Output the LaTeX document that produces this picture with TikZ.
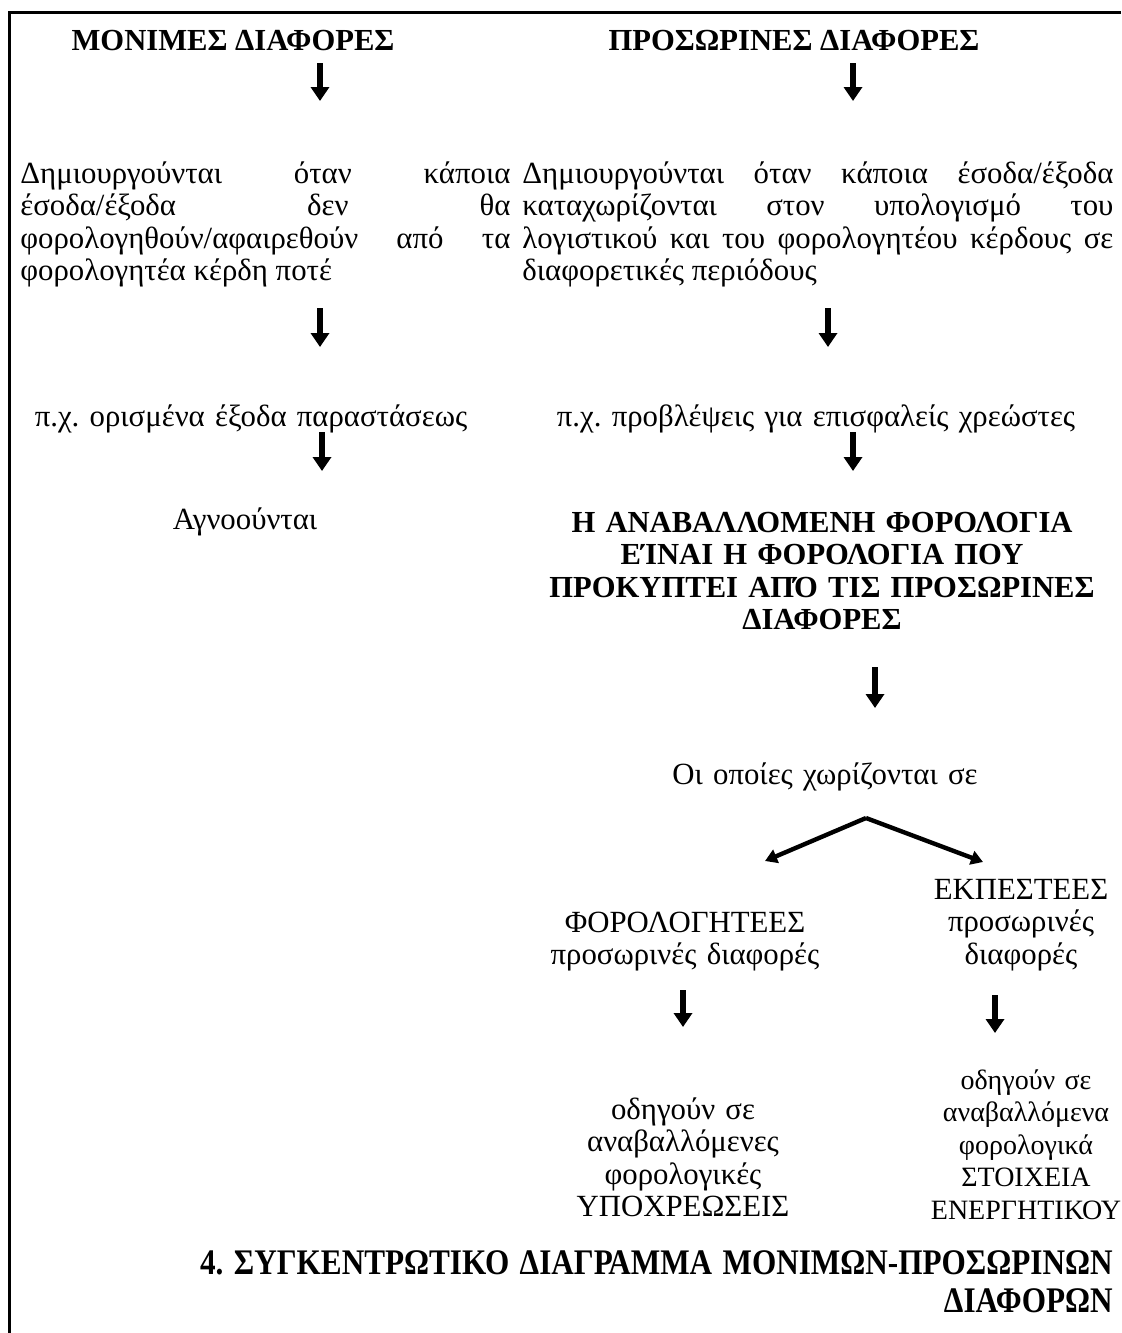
\documentclass[tikz,border=0pt]{standalone}
\usepackage{fontspec}
\setmainfont{Liberation Serif}
\usepackage{graphicx}
\usetikzlibrary{arrows.meta}
\hyphenpenalty=10000
\exhyphenpenalty=10000
\frenchspacing

\begin{document}
\begin{tikzpicture}[x=0.5pt,y=-0.5pt,
		txt/.style={inner sep=0pt, font=\fontsize{15.4}{16.25}\selectfont},
		hd/.style={txt, font=\fontsize{15.3}{16.25}\selectfont\bfseries},
		para/.style={txt, anchor=base west, align=justify},
		mid/.style={txt, anchor=base, align=center},
		bigarrow/.style={line width=3pt, -{Triangle[width=9pt,length=7pt]}},
		splitarrow/.style={line width=2.2pt, -{Triangle[width=7pt,length=6pt]}}]
	\useasboundingbox (0,0) rectangle (1121,1333);
	\draw[line width=1.5pt] (1121,12) -- (9,12) -- (9,1333);
	% headings
	\node[hd, anchor=base] (monimes) at (233,50) {ΜΟΝΙΜΕΣ ΔΙΑΦΟΡΕΣ};
	\node[hd, anchor=base] (prosorines) at (794,50) {ΠΡΟΣΩΡΙΝΕΣ ΔΙΑΦΟΡΕΣ};
	% left column
	\node[para, text width=245pt] (monpar) at (20,183) {Δημιουργούνται όταν κάποια\linebreak έσοδα/έξοδα δεν θα\linebreak φορολογηθούν/αφαιρεθούν από τα\linebreak φορολογητέα κέρδη ποτέ};
	\node[mid, text width=245pt] (monex) at (251,426) {π.χ. ορισμένα έξοδα παραστάσεως};
	\node[mid, text width=150pt] (agn) at (245,529) {Αγνοούνται};
	% right column
	\node[para, text width=295.5pt] (propar) at (522,183) {Δημιουργούνται όταν κάποια έσοδα/έξοδα\linebreak καταχωρίζονται στον υπολογισμό του\linebreak λογιστικού και του φορολογητέου κέρδους σε\linebreak διαφορετικές περιόδους};
	\node[mid, text width=295.5pt] (proex) at (816,426) {π.χ. προβλέψεις για επισφαλείς χρεώστες};
	\node[hd, anchor=base, align=center, text width=280pt] (anabal) at (822,532) {Η ΑΝΑΒΑΛΛΟΜΕΝΗ ΦΟΡΟΛΟΓΙΑ\\ ΕΊΝΑΙ Η ΦΟΡΟΛΟΓΙΑ ΠΟΥ\\ ΠΡΟΚΥΠΤΕΙ ΑΠΌ ΤΙΣ ΠΡΟΣΩΡΙΝΕΣ\\ ΔΙΑΦΟΡΕΣ};
	\node[mid, text width=200pt] (xoriz) at (825,784) {Οι οποίες χωρίζονται σε};
	\node[mid, text width=150pt] (forol) at (685,932) {ΦΟΡΟΛΟΓΗΤΕΕΣ\\ προσωρινές διαφορές};
	\node[mid, text width=100pt] (ekpest) at (1021,899) {ΕΚΠΕΣΤΕΕΣ\\ προσωρινές\\ διαφορές};
	\node[mid, text width=150pt] (ypoxr) at (683,1119) {οδηγούν σε\\ αναβαλλόμενες\\ φορολογικές\\ ΥΠΟΧΡΕΩΣΕΙΣ};
	\node[mid, font=\fontsize{14}{16.25}\selectfont, text width=100pt] (energ) at (1026,1089) {οδηγούν σε\\ αναβαλλόμενα\\ φορολογικά\\ ΣΤΟΙΧΕΙΑ\\ ΕΝΕΡΓΗΤΙΚΟΥ};
	% caption
	\node[hd, font=\fontsize{15}{16.25}\selectfont\bfseries, anchor=base east, align=right, text width=500pt] (titlos) at (1113,1274) {\scalebox{1.04}[1.2]{4. ΣΥΓΚΕΝΤΡΩΤΙΚΟ ΔΙΑΓΡΑΜΜΑ ΜΟΝΙΜΩΝ-ΠΡΟΣΩΡΙΝΩΝ}\\[3pt] \scalebox{1.04}[1.2]{ΔΙΑΦΟΡΩΝ}};
	% arrows
	\foreach \n/\x/\ya/\yb in {a1/320/63/101, a2/853/63/101, a3/320/308/347, a4/828/308/347,
		a5/322/432/471, a6/853/432/471, a7/875/667/708, a8/683/990/1027, a9/995/995/1033}{
		\coordinate (\n s) at (\x,\ya);
		\coordinate (\n e) at (\x,\yb);
		\draw[bigarrow] (\n s) -- (\n e);
	}
	\coordinate (apex) at (866,818);
	\coordinate (vl) at (765,861);
	\coordinate (vr) at (983,862);
	\draw[splitarrow] (apex) -- (vl);
	\draw[splitarrow] (apex) -- (vr);
\end{tikzpicture}
\end{document}
